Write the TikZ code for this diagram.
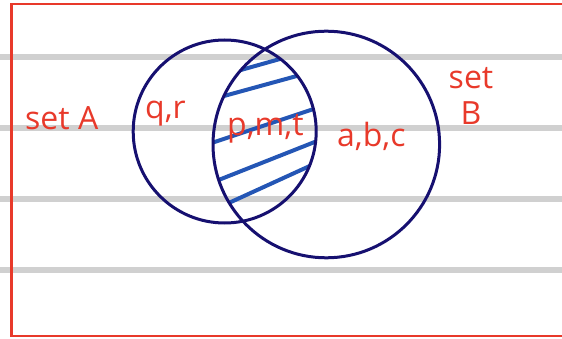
\documentclass[tikz,border=0pt]{standalone}
\usepackage{fontspec}
\setmainfont{Open Sans}
\usetikzlibrary{positioning}
\definecolor{penred}{RGB}{232,57,42}
\definecolor{ringnavy}{RGB}{22,16,112}
\definecolor{hatchblue}{RGB}{36,86,181}
\definecolor{ruleg}{RGB}{208,208,208}
\tikzset{
  rule/.style={ruleg, line width=5.5pt},
  pageframe/.style={penred, line width=2.8pt},
  ring/.style={ringnavy, line width=3pt},
  hatch/.style={hatchblue, line width=4pt, shorten <=-20pt, shorten >=-20pt},
  lab/.style={text=penred, inner sep=0pt, anchor=base west,
              font=\fontsize{32}{36}\selectfont},
}

\begin{document}
\begin{tikzpicture}[x=1pt, y=-1pt]
  \useasboundingbox (0,0) rectangle (562,339);
  % ruled paper
  \foreach \y in {57,128,199,270}
    \draw[rule] (0,\y) -- (562,\y);
  \draw[pageframe] (566,4) -- (11.5,4) -- (11.5,336) -- (566,336);
  \coordinate (cA) at (224.7,131.5);
  \coordinate (cB) at (326.3,144.5);
  % shaded intersection
  \begin{scope}
    \clip (cA) circle [radius=91.5];
    \clip (cB) circle [radius=113.3];
    \foreach \xa/\ya/\xb/\yb in {240.9/70/278.9/59.3, 224/96/296.8/76,
        212.5/142.7/313.6/109, 218.6/180/315.4/141.7, 229.4/202.7/308.2/166.7}
      \draw[hatch] (\xa,\ya) -- (\xb,\yb);
  \end{scope}
  \draw[ring] (cA) circle [radius=91.5];
  \draw[ring] (cB) circle [radius=113.3];
  % labels
  \node[lab] (setA) at (25,130) {set A};
  \node[lab] (onlyA) at (145,119) {q,r};
  \node[lab] (both) at (227,136) {p,m,t};
  \node[lab] (onlyB) at (337,147) {a,b,c};
  \node[lab, anchor=north, align=center] (setB) at (471,67) {set\\B};
\end{tikzpicture}
\end{document}
